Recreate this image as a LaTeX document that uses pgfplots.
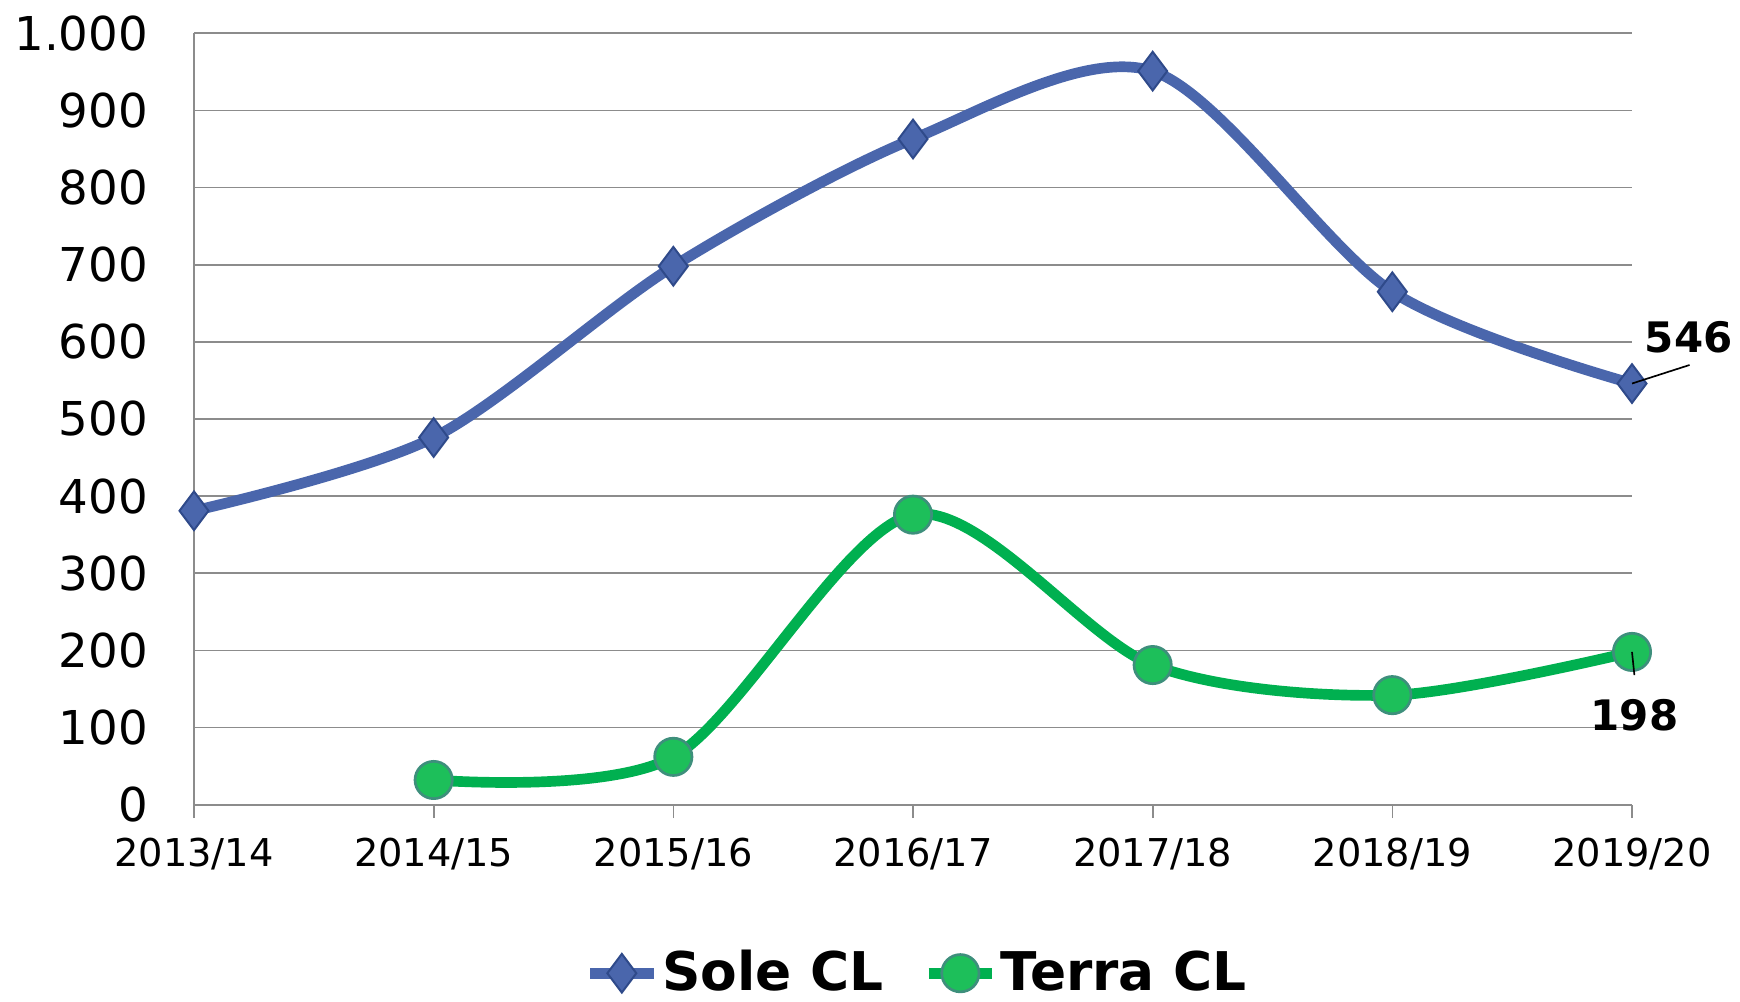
\documentclass[border=0pt]{standalone}
\usepackage{pgfplots}
\pgfplotsset{compat=1.18}
\usepackage{fontspec}
\setmainfont{DejaVu Sans}
\definecolor{soleblue}{HTML}{4A66AC}
\definecolor{soleedge}{HTML}{2F4A8A}
\definecolor{terragreen}{HTML}{00B050}
\definecolor{terrafill}{HTML}{1DBF5A}
\definecolor{terraedge}{HTML}{3E8F7C}
\definecolor{gridgray}{HTML}{8C8C8C}
\begin{document}
\begin{tikzpicture}
\begin{axis}[
  set layers,
  scale only axis, width=431.4pt, height=231.4pt,
  xmin=0, xmax=6, ymin=0, ymax=1000,
  xtick={0,...,6},
  xticklabels={2013/14,2014/15,2015/16,2016/17,2017/18,2018/19,2019/20},
  ytick={0,100,...,1000},
  axis x line*=bottom, axis y line*=left,
  axis line style={gridgray, line width=0.5pt, -},
  ymajorgrids, major grid style={gridgray, line width=0.5pt},
  tick align=outside,
  xtick style={gridgray, line width=0.5pt},
  major tick length=4pt,
  ytick style={draw=none},
  /pgf/number format/assume math mode=true,
  /pgf/number format/1000 sep={.},
  yticklabel style={font=\fontsize{14}{16}\selectfont, inner sep=0pt, anchor=east, xshift=-9.6pt},
  xticklabel style={font=\fontsize{11.5}{13}\selectfont, yshift=-2.6pt},
  clip=false,
  legend style={at={(0.503,-0.2185)}, anchor=center, draw=none, legend columns=-1,
    font=\bfseries\fontsize{16}{18}\selectfont,
    nodes={inner xsep=1pt, inner ysep=1pt},
    /tikz/every even column/.append style={column sep=11pt}},
  legend image code/.code={\draw[mark repeat=2,mark phase=2,#1] plot coordinates {(0pt,0pt)(9.5pt,0pt)(19pt,0pt)};},
]
\addplot[soleblue, line width=3.2pt, smooth, mark=diamond*, mark size=5.8pt,
  mark options={fill=soleblue, draw=soleedge, line width=0.6pt}]
  coordinates {(0,381)(1,476)(2,698)(3,863)(4,951)(5,665)(6,546)};
\addlegendentry{Sole CL}
\addplot[terragreen, line width=3.2pt, smooth, mark=*, mark size=5.6pt,
  mark options={fill=terrafill, draw=terraedge, line width=0.8pt}]
  coordinates {(1,32)(2,62)(3,376)(4,181)(5,142)(6,198)};
\addlegendentry{Terra CL}
\begin{pgfonlayer}{axis foreground}
\draw[black, line width=0.5pt] (axis cs:6,546) -- (axis cs:6.24,570);
\node[font=\bfseries\fontsize{12.6}{14}\selectfont] at (axis cs:6.237,606) {546};
\draw[black, line width=0.5pt] (axis cs:6,198) -- (axis cs:6.01,168);
\node[font=\bfseries\fontsize{12.6}{14}\selectfont] at (axis cs:6.01,116) {198};
\end{pgfonlayer}
\end{axis}
\pgfresetboundingbox
\path[use as bounding box] (-58.2pt,-58.9pt) rectangle (463.8pt,241.4pt);
\end{tikzpicture}
\end{document}
